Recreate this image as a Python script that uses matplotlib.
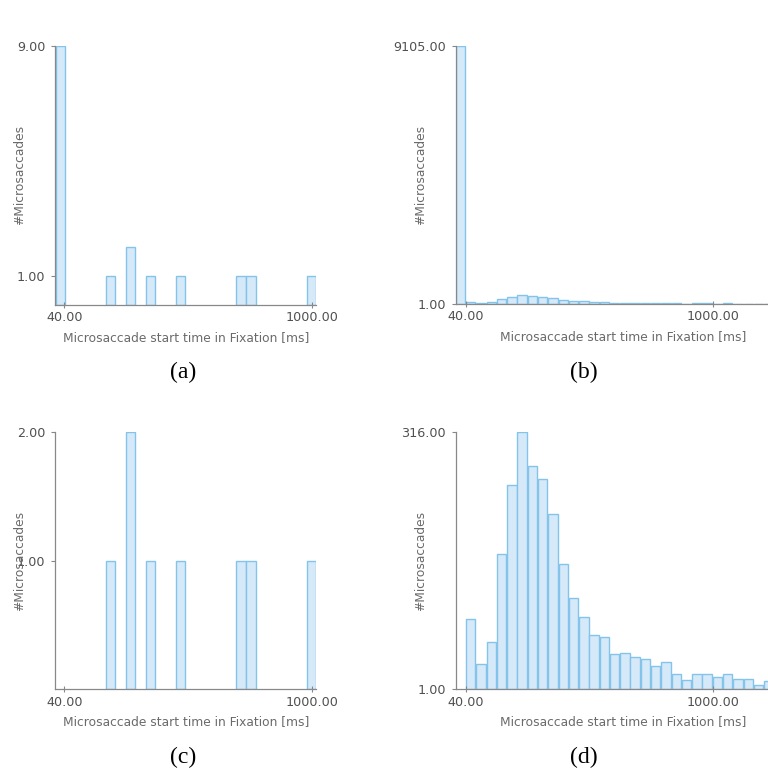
import numpy as np
import matplotlib
matplotlib.use("Agg")
import matplotlib.pyplot as plt

# --- data ------------------------------------------------------------------
# (a)/(c): 26 bins, first bin edge and bin width in ms
ac_bin_start = 6.5
ac_bin_width = 38.85
a_counts = [9, 0, 0, 0, 0, 1, 0, 2, 0, 1, 0, 0, 1, 0, 0, 0, 0, 0, 1, 1,
            0, 0, 0, 0, 0, 1]
c_counts = [0, 0, 0, 0, 0, 1, 0, 2, 0, 1, 0, 0, 1, 0, 0, 0, 0, 0, 1, 1,
            0, 0, 0, 0, 0, 1]

# (b)/(d): 40 ms bins starting at 0 ms
bd_bin_start = 0.0
bd_bin_width = 40.0
d_counts = [0, 87, 32, 59, 166, 251, 316, 274, 258, 215, 154, 113, 90, 67,
            65, 44, 46, 40, 38, 30, 34, 20, 12, 20, 20, 16, 20, 14, 14, 6, 11]
b_counts = [9105] + d_counts[1:]

x_ticks = [40, 1000]
x_tick_labels = ["40.00", "1000.00"]

panels = {
    "a": dict(counts=a_counts, start=ac_bin_start, width=ac_bin_width,
              ylim=(0, 9), yticks=[1, 9], ylabels=["1.00", "9.00"]),
    "b": dict(counts=b_counts, start=bd_bin_start, width=bd_bin_width,
              ylim=(1, 9105), yticks=[1, 9105], ylabels=["1.00", "9105.00"]),
    "c": dict(counts=c_counts, start=ac_bin_start, width=ac_bin_width,
              ylim=(0, 2), yticks=[1, 2], ylabels=["1.00", "2.00"]),
    "d": dict(counts=d_counts, start=bd_bin_start, width=bd_bin_width,
              ylim=(1, 316), yticks=[1, 316], ylabels=["1.00", "316.00"]),
}

# --- layout (pixels of a 768x770 canvas) ------------------------------------
W, H = 768, 770
# left px, right px, top px, bottom px, xlim
boxes = {
    "a": (55.0, 316.4, 46.0, 304.6, (4, 1016)),
    "b": (455.7, 789.8, 45.7, 304.0, (0, 1300)),
    "c": (55.0, 316.4, 431.7, 689.3, (4, 1016)),
    "d": (455.7, 789.8, 431.7, 689.3, (0, 1300)),
}
captions = {"a": (183, 372), "b": (584, 372), "c": (183, 757), "d": (584, 757)}

FILL = "#d6e9f8"
EDGE = "#84c4ea"
SPINE = "#888888"
TICKTXT = "#505050"
LABTXT = "#6a6a6a"

plt.rcParams["font.family"] = ["DejaVu Sans"]

fig = plt.figure(figsize=(W / 100, H / 100), dpi=100)

for key, p in panels.items():
    l, r, t, b, xlim = boxes[key]
    ax = fig.add_axes([l / W, 1 - b / H, (r - l) / W, (b - t) / H])
    counts = np.array(p["counts"], dtype=float)
    lefts = p["start"] + p["width"] * np.arange(len(counts))
    base = p["ylim"][0]
    mask = counts > base
    ax.bar(lefts[mask], counts[mask] - base, bottom=base,
           width=p["width"] * 0.92, align="edge",
           color=FILL, edgecolor=EDGE, linewidth=1.0)

    ax.set_xlim(*xlim)
    ax.set_ylim(*p["ylim"])
    ax.set_xticks(x_ticks)
    ax.set_xticklabels(x_tick_labels)
    ax.set_yticks(p["yticks"])
    ax.set_yticklabels(p["ylabels"])

    for s in ("top", "right"):
        ax.spines[s].set_visible(False)
    for s in ("left", "bottom"):
        ax.spines[s].set_color(SPINE)
        ax.spines[s].set_linewidth(0.9)

    ax.tick_params(axis="x", direction="inout", length=5, width=0.8,
                   color=SPINE, labelcolor=TICKTXT, labelsize=9.2, pad=2)
    ax.tick_params(axis="y", direction="out", length=3, width=0.8,
                   color=SPINE, labelcolor=TICKTXT, labelsize=9.2, pad=4)

    ax.set_xlabel("Microsaccade start time in Fixation [ms]",
                  color=LABTXT, fontsize=8.8, labelpad=5)
    ax.set_ylabel("#Microsaccades", color=LABTXT, fontsize=8.8, va="center")
    ax.yaxis.set_label_coords(-35.0 / (r - l), 0.5)

    cx, cy = captions[key]
    fig.text(cx / W, 1 - cy / H, f"({key})", ha="center", va="center",
             family="Liberation Serif", fontsize=17, color="black")

fig.savefig("out.png", dpi=100)
